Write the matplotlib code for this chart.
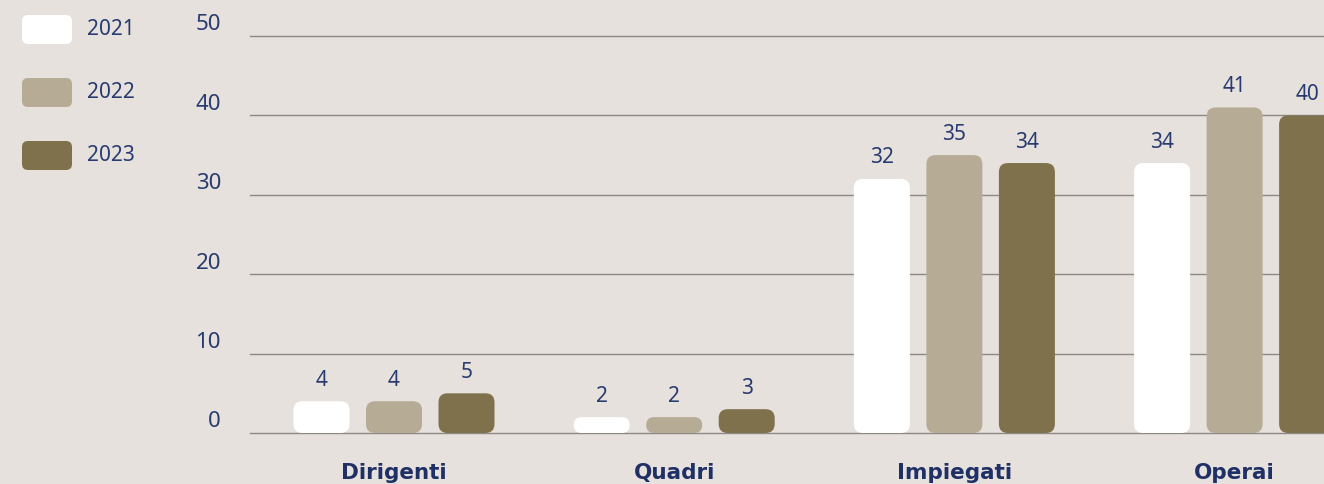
import matplotlib
matplotlib.use("Agg")
import matplotlib.pyplot as plt
from matplotlib.patches import FancyBboxPatch
from matplotlib.transforms import blended_transform_factory, offset_copy

categories = ["Dirigenti", "Quadri", "Impiegati", "Operai"]
years = ["2021", "2022", "2023"]
values_2021 = [4, 2, 32, 34]
values_2022 = [4, 2, 35, 41]
values_2023 = [5, 3, 34, 40]
yticks = [0, 10, 20, 30, 40, 50]

series = [values_2021, values_2022, values_2023]
colors = ["#FFFFFF", "#B6AB95", "#80714D"]
bg = "#E6E1DC"
navy = "#283B70"
navy_dark = "#1F3066"
grid_c = "#8E8983"
font = "Noto Sans"

W, H = 1324, 485
fig = plt.figure(figsize=(W / 100, H / 100), dpi=100, facecolor=bg)

ax_l, ax_r, ax_b, ax_t = 250, 1324, 434, 37
ax = fig.add_axes([ax_l / W, (H - ax_b) / H, (ax_r - ax_l) / W, (ax_b - ax_t) / H])
ax.set_facecolor(bg)
ax.set_ylim(0, 50)
px_per_unit_x = 280.2
ax.set_xlim(-(394 - 250) / px_per_unit_x, (1324 - 394) / px_per_unit_x)
for s in ax.spines.values():
    s.set_visible(False)
ax.set_xticks([])
ax.set_yticks([])
for t in yticks:
    ax.axhline(t, color=grid_c, lw=1.0, zorder=1, clip_on=False)

# y tick labels, drawn slightly above the gridlines
trans_y = blended_transform_factory(ax.transAxes, ax.transData)
trans_y = offset_copy(trans_y, fig=fig, x=0, y=12, units="dots")
for t in yticks:
    ax.text(-0.027, t, str(t), transform=trans_y, ha="right", va="center",
            fontsize=16, color=navy, family=font)

bar_w = 56 / px_per_unit_x
step = 72.5 / px_per_unit_x
px_per_unit_y = (ax_b - ax_t) / 50.0
r_px = 9.0
aspect = px_per_unit_x / px_per_unit_y

lab_trans = offset_copy(ax.transData, fig=fig, x=0, y=22, units="dots")
for si, (vals, col) in enumerate(zip(series, colors)):
    for ci, v in enumerate(vals):
        xc = ci + (si - 1) * step
        r_y = min(r_px / px_per_unit_y, v / 2.0)
        r_x = r_y / aspect
        p = FancyBboxPatch((xc - bar_w / 2, 0), bar_w, v,
                           boxstyle=f"round,pad=0,rounding_size={r_x}",
                           mutation_aspect=aspect,
                           facecolor=col, edgecolor="none", zorder=3,
                           clip_on=False)
        ax.add_patch(p)
        ax.text(xc, v, str(v), transform=lab_trans, ha="center", va="center",
                fontsize=15, color=navy, family=font, zorder=4)

# category labels
cat_trans = offset_copy(blended_transform_factory(ax.transData, ax.transAxes),
                        fig=fig, x=0, y=-39, units="dots")
for ci, c in enumerate(categories):
    ax.text(ci, 0, c, transform=cat_trans, ha="center", va="center",
            fontsize=15.5, fontweight="bold", color=navy_dark,
            family="DejaVu Sans")

# legend (in figure pixel space)
lax = fig.add_axes([0, 0, 1, 1], facecolor="none")
lax.set_xlim(0, W)
lax.set_ylim(H, 0)
lax.axis("off")
leg_y = [16, 79, 142]
for yr, col, y0 in zip(years, colors, leg_y):
    lax.add_patch(FancyBboxPatch((22, y0), 50, 29,
                                 boxstyle="round,pad=0,rounding_size=6",
                                 facecolor=col, edgecolor="none"))
    lax.text(87, y0 + 13.5, yr, ha="left", va="center", fontsize=15,
             color=navy, family=font)

fig.savefig("out.png", dpi=100, facecolor=bg)
